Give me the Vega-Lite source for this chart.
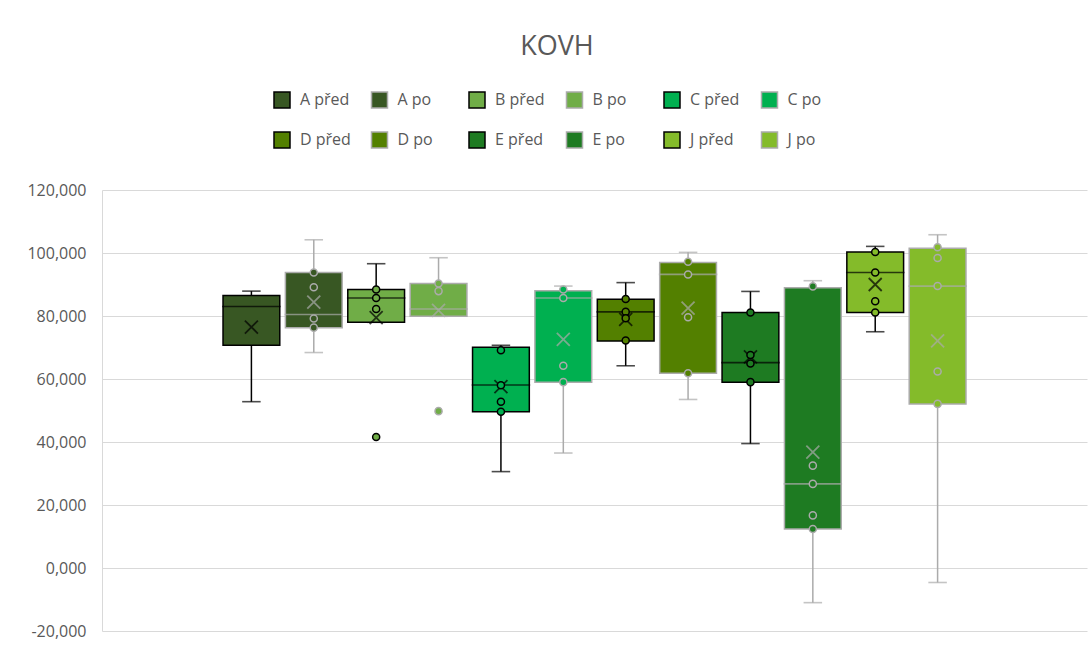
{
  "$schema": "https://vega.github.io/schema/vega-lite/v6.json",
  "width": 985,
  "height": 441,
  "autosize": {"type": "none"},
  "padding": {"left": 102, "top": 190, "right": 5, "bottom": 17},
  "background": "white",
  "config": {
    "locale": {"number": {"decimal": ",", "thousands": " ", "grouping": [3], "currency": ["", ""], "minus": "-"}},
    "font": "Open Sans",
    "view": {"stroke": null}
  },
  "title": {"text": "KOVH", "fontSize": 27, "fontWeight": "normal", "color": "#595959", "anchor": "middle", "frame": "bounds", "offset": 30},
  "datasets": {
    "stats": [
      {"series": "A před", "phase": "před", "lo": 52.8, "q1": 70.7, "med": 83.0, "q3": 86.5, "hi": 87.9, "mean": 76.5},
      {"series": "A po", "phase": "po", "lo": 68.4, "q1": 76.3, "med": 80.5, "q3": 93.8, "hi": 104.2, "mean": 84.4},
      {"series": "B před", "phase": "před", "lo": 78.0, "q1": 78.0, "med": 85.7, "q3": 88.4, "hi": 96.6, "mean": 79.5},
      {"series": "B po", "phase": "po", "lo": 79.9, "q1": 79.9, "med": 82.2, "q3": 90.3, "hi": 98.5, "mean": 81.8},
      {"series": "C před", "phase": "před", "lo": 30.6, "q1": 49.6, "med": 58.1, "q3": 70.1, "hi": 70.7, "mean": 57.6},
      {"series": "C po", "phase": "po", "lo": 36.5, "q1": 59.0, "med": 85.7, "q3": 88.0, "hi": 89.5, "mean": 72.6},
      {"series": "D před", "phase": "před", "lo": 64.2, "q1": 72.1, "med": 81.3, "q3": 85.3, "hi": 90.6, "mean": 78.9},
      {"series": "D po", "phase": "po", "lo": 53.5, "q1": 61.8, "med": 93.2, "q3": 97.0, "hi": 100.2, "mean": 82.5},
      {"series": "E před", "phase": "před", "lo": 39.5, "q1": 59.0, "med": 65.2, "q3": 81.1, "hi": 87.8, "mean": 67.0},
      {"series": "E po", "phase": "po", "lo": -11.0, "q1": 12.4, "med": 26.7, "q3": 89.0, "hi": 91.2, "mean": 36.8},
      {"series": "J před", "phase": "před", "lo": 75.0, "q1": 81.1, "med": 93.8, "q3": 100.3, "hi": 102.1, "mean": 90.0},
      {"series": "J po", "phase": "po", "lo": -4.6, "q1": 52.1, "med": 89.5, "q3": 101.5, "hi": 105.8, "mean": 72.1}
    ],
    "points": [
      {"series": "A po", "phase": "po", "value": 93.8},
      {"series": "A po", "phase": "po", "value": 89.1},
      {"series": "A po", "phase": "po", "value": 79.2},
      {"series": "A po", "phase": "po", "value": 76.3},
      {"series": "B před", "phase": "před", "value": 88.4},
      {"series": "B před", "phase": "před", "value": 85.7},
      {"series": "B před", "phase": "před", "value": 82.2},
      {"series": "B před", "phase": "před", "value": 41.6},
      {"series": "B po", "phase": "po", "value": 90.3},
      {"series": "B po", "phase": "po", "value": 87.9},
      {"series": "B po", "phase": "po", "value": 49.8},
      {"series": "C před", "phase": "před", "value": 69.1},
      {"series": "C před", "phase": "před", "value": 58.0},
      {"series": "C před", "phase": "před", "value": 52.8},
      {"series": "C před", "phase": "před", "value": 49.6},
      {"series": "C po", "phase": "po", "value": 88.4},
      {"series": "C po", "phase": "po", "value": 85.7},
      {"series": "C po", "phase": "po", "value": 64.2},
      {"series": "C po", "phase": "po", "value": 59.0},
      {"series": "D před", "phase": "před", "value": 85.4},
      {"series": "D před", "phase": "před", "value": 81.3},
      {"series": "D před", "phase": "před", "value": 79.3},
      {"series": "D před", "phase": "před", "value": 72.2},
      {"series": "D po", "phase": "po", "value": 97.2},
      {"series": "D po", "phase": "po", "value": 93.2},
      {"series": "D po", "phase": "po", "value": 79.6},
      {"series": "D po", "phase": "po", "value": 61.8},
      {"series": "E před", "phase": "před", "value": 81.1},
      {"series": "E před", "phase": "před", "value": 67.6},
      {"series": "E před", "phase": "před", "value": 64.9},
      {"series": "E před", "phase": "před", "value": 59.0},
      {"series": "E po", "phase": "po", "value": 89.4},
      {"series": "E po", "phase": "po", "value": 32.5},
      {"series": "E po", "phase": "po", "value": 26.7},
      {"series": "E po", "phase": "po", "value": 16.7},
      {"series": "E po", "phase": "po", "value": 12.4},
      {"series": "J před", "phase": "před", "value": 100.3},
      {"series": "J před", "phase": "před", "value": 93.8},
      {"series": "J před", "phase": "před", "value": 84.7},
      {"series": "J před", "phase": "před", "value": 81.1},
      {"series": "J po", "phase": "po", "value": 101.8},
      {"series": "J po", "phase": "po", "value": 98.4},
      {"series": "J po", "phase": "po", "value": 89.5},
      {"series": "J po", "phase": "po", "value": 62.4},
      {"series": "J po", "phase": "po", "value": 52.1}
    ]
  },
  "encoding": {
    "x": {
      "field": "series",
      "type": "nominal",
      "scale": {
        "domain": ["", "A před", "A po", "B před", "B po", "C před", "C po", "D před", "D po", "E před", "E po", "J před", "J po", " "],
        "paddingInner": 0.09,
        "paddingOuter": 0.94
      },
      "axis": null
    },
    "stroke": {
      "field": "phase",
      "type": "nominal",
      "scale": {"domain": ["před", "po"], "range": ["#000000", "#ababab"]},
      "legend": null
    }
  },
  "layer": [
    {
      "data": {"name": "stats"},
      "mark": {"type": "rule", "strokeWidth": 1.5},
      "encoding": {
        "y": {
          "field": "lo",
          "type": "quantitative",
          "scale": {"domain": [-20, 120], "nice": false, "zero": false},
          "axis": {
            "title": null,
            "values": [-20, 0, 20, 40, 60, 80, 100, 120],
            "format": ".3f",
            "grid": true,
            "gridColor": "#d9d9d9",
            "gridWidth": 1,
            "domain": true,
            "domainColor": "#d9d9d9",
            "ticks": false,
            "labelFontSize": 16,
            "labelColor": "#595959",
            "labelPadding": 16
          }
        },
        "y2": {"field": "hi"}
      }
    },
    {
      "data": {"name": "stats"},
      "mark": {"type": "tick", "filled": false, "size": 17, "thickness": 0.1, "strokeWidth": 1.5},
      "encoding": {"y": {"field": "lo", "type": "quantitative"}}
    },
    {
      "data": {"name": "stats"},
      "mark": {"type": "tick", "filled": false, "size": 17, "thickness": 0.1, "strokeWidth": 1.5},
      "encoding": {"y": {"field": "hi", "type": "quantitative"}}
    },
    {
      "data": {"name": "stats"},
      "mark": {"type": "bar", "strokeWidth": 1.5},
      "encoding": {
        "y": {"field": "q1", "type": "quantitative"},
        "y2": {"field": "q3"},
        "fill": {
          "field": "series",
          "type": "nominal",
          "scale": {
            "domain": ["A před", "A po", "B před", "B po", "C před", "C po", "D před", "D po", "E před", "E po", "J před", "J po"],
            "range": ["#385723", "#385723", "#70ad47", "#70ad47", "#00b050", "#00b050", "#538000", "#538000", "#1e7b22", "#1e7b22", "#84bb2a", "#84bb2a"]
          },
          "legend": {
            "title": null,
            "orient": "none",
            "direction": "horizontal",
            "legendX": 171,
            "legendY": -99,
            "columns": 6,
            "gridAlign": "all",
            "symbolType": "square",
            "symbolSize": 256,
            "symbolStrokeWidth": 1.5,
            "labelFontSize": 16,
            "labelColor": "#595959",
            "labelOffset": 9,
            "columnPadding": 17.5,
            "rowPadding": 18,
            "encode": {
              "symbols": {
                "update": {
                  "stroke": {"signal": "indexof(datum.value, 'před') >= 0 ? '#000000' : '#ababab'"},
                  "strokeWidth": {"value": 1.5}
                }
              }
            }
          }
        }
      }
    },
    {
      "data": {"name": "stats"},
      "mark": {"type": "tick", "filled": false, "size": 57, "thickness": 0.1, "strokeWidth": 1.5},
      "encoding": {"y": {"field": "med", "type": "quantitative"}}
    },
    {
      "data": {"name": "stats"},
      "mark": {"type": "point", "filled": false, "shape": "M-1,-1L1,1M-1,1L1,-1", "size": 169, "strokeWidth": 1.8},
      "encoding": {"y": {"field": "mean", "type": "quantitative"}}
    },
    {
      "data": {"name": "points"},
      "mark": {"type": "point", "filled": true, "shape": "circle", "size": 50, "strokeWidth": 1.5, "opacity": 1},
      "encoding": {
        "y": {"field": "value", "type": "quantitative"},
        "fill": {"field": "series", "type": "nominal"}
      }
    }
  ]
}
